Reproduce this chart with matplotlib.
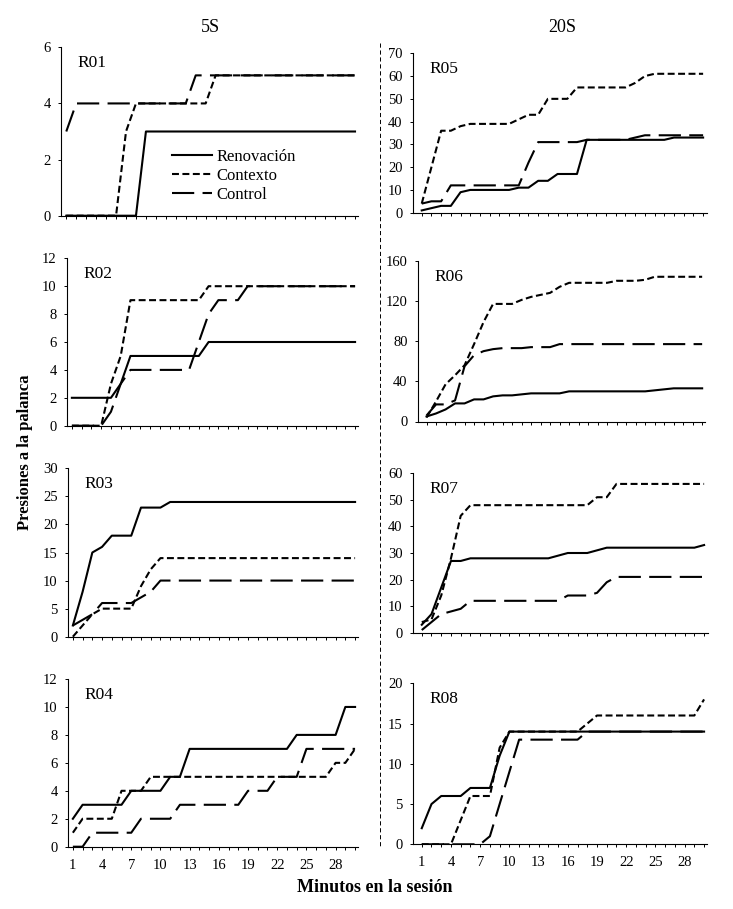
import matplotlib
matplotlib.use('Agg')
import matplotlib.pyplot as plt
from matplotlib.lines import Line2D

plt.rcParams.update({
    'font.family': ['Liberation Serif', 'DejaVu Serif'],
    'lines.scale_dashes': False,
    'axes.linewidth': 0.8,
    'xtick.major.size': 2.5, 'ytick.major.size': 2.5,
    'xtick.major.width': 0.7, 'ytick.major.width': 0.7,
    'xtick.labelsize': 10.5, 'ytick.labelsize': 10.5,
})

minutes = list(range(1, 31))
series_names = ['Renovación', 'Contexto', 'Control']
column_titles = ['5S', '20S']

# 5S group
r01_ren = [0]*8 + [3]*22
r01_con = [0]*6 + [3] + [4]*8 + [5]*15
r01_ctl = [3] + [4]*12 + [5]*17

r02_ren = [2]*5 + [3] + [5]*8 + [6]*16
r02_con = [0]*4 + [3, 5] + [9]*8 + [10]*16
r02_ctl = [0]*4 + [1, 3] + [4]*7 + [6, 8] + [9]*3 + [10]*12

r03_ren = [2, 8, 15, 16, 18, 18, 18, 23, 23, 23] + [24]*20
r03_con = [0, 2, 4, 5, 5, 5, 5, 9, 12, 14] + [14]*20
r03_ctl = [2, 3, 4, 6, 6, 6, 6, 7, 8, 10] + [10]*20

r04_ren = [2] + [3]*5 + [4]*4 + [5]*2 + [7]*11 + [8]*5 + [10]*2
r04_con = [1] + [2]*4 + [4]*3 + [5]*19 + [6]*2 + [7]
r04_ctl = [0, 0] + [1]*5 + [2]*4 + [3]*7 + [4]*3 + [5]*3 + [7]*6

# 20S group
r05_ren = [1, 2, 3, 3, 9] + [10]*5 + [11]*2 + [14]*2 + [17]*3 + [32]*9 + [33]*4
r05_con = [4, 20, 36, 36, 38] + [39]*5 + [41, 43, 43] + [50]*3 + [55]*6 + [57, 60] + [61]*6
r05_ctl = [4, 5, 5] + [12]*8 + [22] + [31]*5 + [32]*5 + [33] + [34]*7

r06_ren = [5, 8, 12, 18, 18, 22, 22, 25, 26, 26, 27] + [28]*4 + [30]*9 + [31, 32] + [33]*4
r06_con = [4, 20, 37, 46, 56, 77, 99, 117, 117, 117, 121, 124, 126, 128, 134] + [138]*5 + [140]*3 + [141] + [144]*6
r06_ctl = [6, 17, 17, 21, 55, 66, 70, 72] + [73]*3 + [74]*3 + [77]*16

r07_ren = [3, 7, 17, 27, 27] + [28]*9 + [29] + [30]*3 + [31] + [32]*10 + [33]
r07_con = [4, 5, 14, 28, 44] + [48]*13 + [51]*2 + [56]*10
r07_ctl = [1, 4, 7, 8, 9] + [12]*10 + [14]*3 + [15, 19] + [21]*10

r08_ren = [2, 5, 6, 6, 6, 7, 7, 7, 11] + [14]*21
r08_con = [0]*4 + [3] + [6]*3 + [12] + [14]*8 + [15] + [16]*11 + [18]
r08_ctl = [0]*7 + [1, 5, 9] + [13]*7 + [14]*13

W, H = 733, 909
fig = plt.figure(figsize=(W/100, H/100), dpi=100)

def px_axes(l, r, t, b):
    return fig.add_axes([l/W, 1 - b/H, (r - l)/W, (b - t)/H])

styles = {
    'Renovación': dict(ls='-'),
    'Contexto': dict(ls=(0, (5, 2.5))),
    'Control': dict(ls=(0, (16, 6))),
}

# name, series, ymax, ystep, (left, right, top, bottom) px, xlim
panels = [
    ('R01', (r01_ren, r01_con, r01_ctl), 6, 2, (61, 358, 47.3, 215.7), (0.47, 30.3)),
    ('R02', (r02_ren, r02_con, r02_ctl), 12, 2, (67, 358, 258.3, 425.7), (0.5, 30.3)),
    ('R03', (r03_ren, r03_con, r03_ctl), 30, 5, (68, 358, 468.3, 636.7), (0.5, 30.3)),
    ('R04', (r04_ren, r04_con, r04_ctl), 12, 2, (68, 358, 679, 846.7), (0.5, 30.3)),
    ('R05', (r05_ren, r05_con, r05_ctl), 70, 10, (413, 707, 53.3, 212.7), (0.1, 30.4)),
    ('R06', (r06_ren, r06_con, r06_ctl), 160, 40, (418, 705, 260.7, 421.5), (0.1, 30.3)),
    ('R07', (r07_ren, r07_con, r07_ctl), 60, 10, (413, 708, 473.3, 632.7), (0.1, 30.4)),
    ('R08', (r08_ren, r08_con, r08_ctl), 20, 5, (413, 707, 683.3, 844.3), (0.1, 30.3)),
]

for i, (name, series, ymax, ystep, rect, xlim) in enumerate(panels):
    ax = px_axes(*rect)
    for lbl, vals in zip(series_names, series):
        ax.plot(minutes, vals, color='black', lw=1.5, label=lbl, **styles[lbl])
    ax.set_xlim(*xlim); ax.set_ylim(0, ymax)
    ax.set_yticks(range(0, ymax + 1, ystep))
    ax.set_xticks(minutes)
    for s in ['top', 'right']: ax.spines[s].set_visible(False)
    ax.tick_params(axis='y', pad=5)
    if i in (3, 7):
        ax.set_xticklabels([str(m) if (m - 1) % 3 == 0 and m < 30 else '' for m in minutes])
        ax.tick_params(axis='x', pad=6)
    else:
        ax.tick_params(axis='x', labelbottom=False)
    ax.annotate(name, xy=(0, 1), xycoords='axes fraction', xytext=(12, -11.5),
                textcoords='offset points', ha='left', va='center', fontsize=12.5)
    if i == 0:
        ax.legend(loc='upper left', bbox_to_anchor=(172/W, 1 - 149/H), bbox_transform=fig.transFigure,
                  frameon=False, fontsize=12, handlelength=2.4, handletextpad=0.25,
                  labelspacing=0.17, borderpad=0, borderaxespad=0)

fig.text(210/W, 1 - 28/H, column_titles[0], ha='center', va='center', fontsize=13)
fig.text(562/W, 1 - 28/H, column_titles[1], ha='center', va='center', fontsize=13)
fig.add_artist(Line2D([380/W, 380/W], [1 - 43/H, 1 - 848/H], transform=fig.transFigure,
                      color='black', lw=0.7, ls=(0, (3, 2))))
fig.text(25/W, 1 - 452/H, 'Presiones a la palanca', rotation=90, ha='center', va='center',
         fontsize=12, fontweight='bold')
fig.text(375/W, 1 - 888/H, 'Minutos en la sesión', ha='center', va='center',
         fontsize=13, fontweight='bold')

fig.savefig('out.png', dpi=100)
